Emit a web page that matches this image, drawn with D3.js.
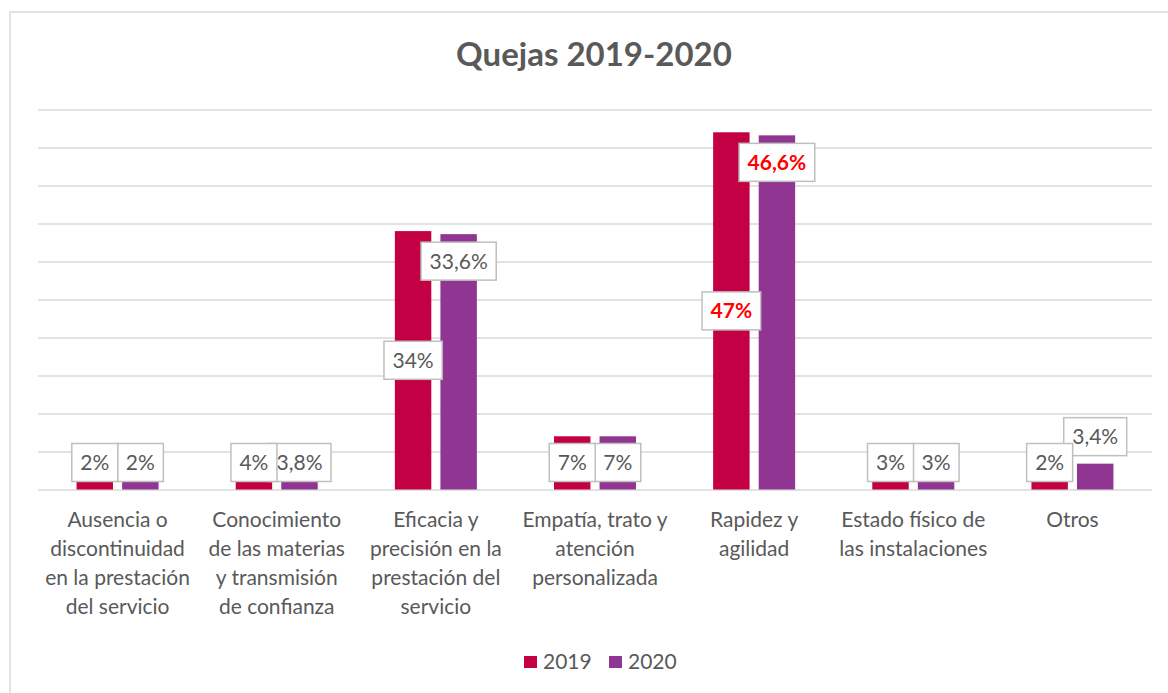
<!DOCTYPE html>
<html>
<head>
<meta charset="utf-8">
<script src="https://cdn.jsdelivr.net/npm/d3@7"></script>
<style>
  body { margin: 0; background: #fff; }
  text { font-family: Lato, "Open Sans", sans-serif; }
</style>
</head>
<body>
<svg id="chart" width="1168" height="693"></svg>
<script>
// data
var categories = [
  "Ausencia o discontinuidad en la prestación del servicio",
  "Conocimiento de las materias y transmisión de confianza",
  "Eficacia y precisión en la prestación del servicio",
  "Empatía, trato y atención personalizada",
  "Rapidez y agilidad",
  "Estado físico de las instalaciones",
  "Otros"
];
var categoryLines = [
  ["Ausencia o", "discontinuidad", "en la prestación", "del servicio"],
  ["Conocimiento", "de las materias", "y transmisión", "de confianza"],
  ["Eficacia y", "precisión en la", "prestación del", "servicio"],
  ["Empatía, trato y", "atención", "personalizada"],
  ["Rapidez y", "agilidad"],
  ["Estado físico de", "las instalaciones"],
  ["Otros"]
];
var series = ["2019", "2020"];
var values2019 = [2, 4, 34, 7, 47, 3, 2];
var values2020 = [2, 3.8, 33.6, 7, 46.6, 3, 3.4];
var labels2019 = ["2%", "4%", "34%", "7%", "47%", "3%", "2%"];
var labels2020 = ["2%", "3,8%", "33,6%", "7%", "46,6%", "3%", "3,4%"];
// how Excel placed each label
var labelMode2019 = ["center", "center", "center", "center", "center", "center", "center"];
var labelMode2020 = ["center", "center", "insideEnd", "center", "insideEnd", "center", "outsideEnd"];
var highlight = [false, false, false, false, true, false, false];
var yTicks = [0, 5, 10, 15, 20, 25, 30, 35, 40, 45, 50];

var colors = { "2019": "#c30044", "2020": "#903592" };

var svg = d3.select("svg#chart");
var margin = { top: 109.5, left: 38, right: 16, bottom: 203.5 };
var width = 1168 - margin.left - margin.right;
var height = 693 - margin.top - margin.bottom;

// outer chart border (runs off the picture on the right and bottom)
svg.append("rect")
  .attr("x", 10)
  .attr("y", 12)
  .attr("width", 1300)
  .attr("height", 900)
  .attr("fill", "none")
  .attr("stroke", "#d9d9d9")
  .attr("stroke-width", 1.5);

svg.append("text")
  .attr("x", 594)
  .attr("y", 66)
  .attr("text-anchor", "middle")
  .attr("fill", "#595959")
  .style("font-size", "33px")
  .style("font-weight", "bold")
  .text("Quejas 2019-2020");

var g = svg.append("g")
  .attr("transform", "translate(" + margin.left + "," + margin.top + ")");

var x0 = d3.scaleBand().domain(categories).range([0, width]).padding(0);
var half = 41;
var x1 = d3.scaleBand().domain(series)
  .range([x0.bandwidth() / 2 - half, x0.bandwidth() / 2 + half])
  .paddingInner(0.2);
var y = d3.scaleLinear().domain([0, 50]).range([height, 0]);

// gridlines
g.append("g")
  .selectAll("line")
  .data(yTicks)
  .enter()
  .append("line")
  .attr("x1", 0)
  .attr("x2", width)
  .attr("y1", function(d) { return Math.round(y(d)) + 0.5; })
  .attr("y2", function(d) { return Math.round(y(d)) + 0.5; })
  .attr("stroke", "#d9d9d9")
  .attr("stroke-width", 1.5);

var rows = categories.map(function(c, i) {
  return { cat: i, v2019: values2019[i], v2020: values2020[i] };
});

// bars
var groups = g.append("g")
  .selectAll("g")
  .data(rows)
  .enter()
  .append("g")
  .attr("transform", function(d) { return "translate(" + x0(categories[d.cat]) + ",0)"; });

groups.selectAll("rect")
  .data(function(d) {
    return series.map(function(s) { return { key: s, value: d["v" + s] }; });
  })
  .enter()
  .append("rect")
  .attr("x", function(d) { return x1(d.key); })
  .attr("width", x1.bandwidth())
  .attr("y", function(d) { return y(d.value); })
  .attr("height", function(d) { return height - y(d.value); })
  .attr("fill", function(d) { return colors[d.key]; });

// data labels
function labelY(v, mode) {
  if (mode == "insideEnd") return y(v) + 27;
  if (mode == "outsideEnd") return y(v) - 27;
  return Math.min(y(v / 2), height - 27);
}
var labelData = [];
for (var i = 0; i < categories.length; i++) {
  labelData.push({ cat: i, key: "2020", text: labels2020[i], cy: labelY(values2020[i], labelMode2020[i]) });
}
for (var i = 0; i < categories.length; i++) {
  labelData.push({ cat: i, key: "2019", text: labels2019[i], cy: labelY(values2019[i], labelMode2019[i]) });
}

var lab = g.append("g")
  .selectAll("g")
  .data(labelData)
  .enter()
  .append("g")
  .attr("transform", function(d) {
    var cx = x0(categories[d.cat]) + x1(d.key) + x1.bandwidth() / 2;
    return "translate(" + cx + "," + d.cy + ")";
  });

lab.append("rect").attr("class", "box");
lab.append("text")
  .attr("text-anchor", "middle")
  .attr("y", 7.5)
  .attr("fill", function(d) { return highlight[d.cat] ? "#ff0000" : "#595959"; })
  .style("font-weight", function(d) { return highlight[d.cat] ? "bold" : "normal"; })
  .style("font-size", "21px")
  .text(function(d) { return d.text; });

lab.each(function() {
  var node = d3.select(this);
  var w = node.select("text").node().getComputedTextLength() + 17;
  node.select("rect")
    .attr("x", -w / 2)
    .attr("y", -19)
    .attr("width", w)
    .attr("height", 38)
    .attr("fill", "#fff")
    .attr("stroke", "#bfbfbf")
    .attr("stroke-width", 1.5);
});

// category labels
var catText = g.append("g")
  .selectAll("text")
  .data(categoryLines)
  .enter()
  .append("text")
  .attr("text-anchor", "middle")
  .attr("fill", "#595959")
  .style("font-size", "21px")
  .attr("transform", function(d, i) {
    return "translate(" + (x0(categories[i]) + x0.bandwidth() / 2) + "," + (height + 37) + ")";
  });

catText.selectAll("tspan")
  .data(function(d) { return d; })
  .enter()
  .append("tspan")
  .attr("x", 0)
  .attr("y", function(d, i) { return i * 29; })
  .text(function(d) { return d; });

// legend
var legend = svg.append("g")
  .selectAll("g")
  .data(series)
  .enter()
  .append("g")
  .attr("transform", function(d, i) { return "translate(" + (524 + i * 85) + ",656)"; });

legend.append("rect")
  .attr("width", 13)
  .attr("height", 12)
  .attr("fill", function(d) { return colors[d]; });

legend.append("text")
  .attr("x", 19)
  .attr("y", 13)
  .attr("fill", "#595959")
  .style("font-size", "21px")
  .text(function(d) { return d; });
</script>
</body>
</html>
